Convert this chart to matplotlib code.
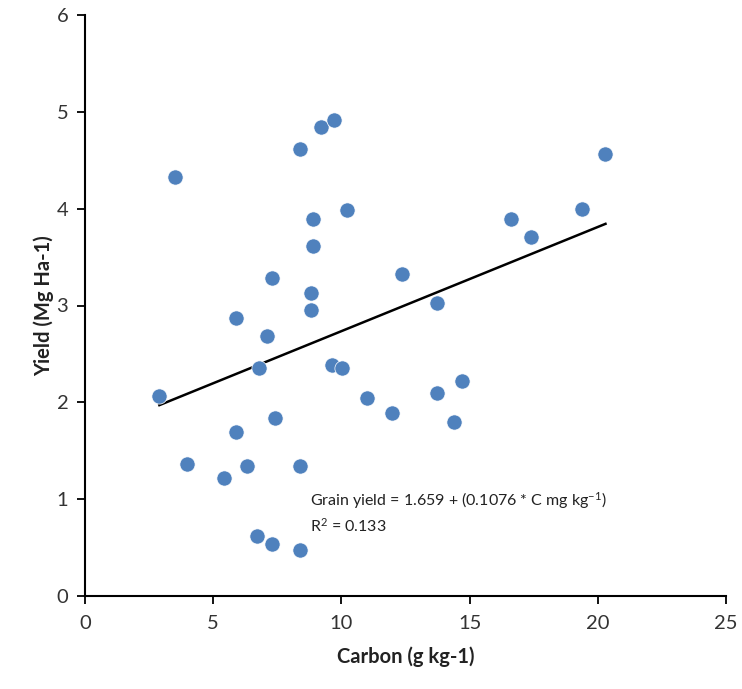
import numpy as np
import matplotlib
matplotlib.use("Agg")
import matplotlib.pyplot as plt

# soil carbon (g/kg) vs grain yield (Mg/ha)
carbon = [3.51, 8.38, 9.20, 9.71, 10.20, 8.90, 8.90, 7.29, 8.80, 12.38,
          20.30, 19.40, 16.61, 17.41, 13.71,
          8.80, 5.89, 7.11, 6.80, 9.62, 10.03, 2.90, 11.01, 11.99, 7.41,
          5.89, 3.99, 6.30, 8.38, 5.42, 6.69, 7.30, 8.38,
          14.71, 13.71, 14.40]
yield_ = [4.33, 4.62, 4.84, 4.92, 3.99, 3.89, 3.61, 3.28, 3.13, 3.33,
          4.56, 4.00, 3.89, 3.71, 3.03,
          2.95, 2.87, 2.69, 2.35, 2.39, 2.35, 2.07, 2.04, 1.89, 1.84,
          1.69, 1.36, 1.34, 1.34, 1.22, 0.62, 0.54, 0.48,
          2.22, 2.10, 1.80]

intercept = 1.659
slope = 0.1076
r2 = 0.133

x_ticks = [0, 5, 10, 15, 20, 25]
y_ticks = [0, 1, 2, 3, 4, 5, 6]

plt.rcParams["font.family"] = ["Lato", "DejaVu Sans"]
plt.rcParams["mathtext.fontset"] = "custom"
plt.rcParams["mathtext.rm"] = "Lato"
plt.rcParams["mathtext.it"] = "Lato:italic"
plt.rcParams["mathtext.bf"] = "Lato:bold"

fig = plt.figure(figsize=(7.42, 6.89), dpi=100)
ax = fig.add_axes([85 / 742, 93 / 689, 641 / 742, 581 / 689])

ax.scatter(carbon, yield_, s=120, color="#4F81BD", edgecolors="white",
           linewidths=0.5, zorder=3)

# trend line from the regression coefficients
xs = np.array([min(carbon), max(carbon)])
ax.plot(xs, intercept + slope * xs, color="black", linewidth=1.8, zorder=2)

ax.text(8.77, 1.09,
        "Grain yield = 1.659 + (0.1076 * C mg kg$^{-1}$)\nR$^2$ = %.3f" % r2,
        fontsize=11.5, va="top", ha="left", color="#222222", linespacing=1.35)

ax.set_xlim(0, 25)
ax.set_ylim(0, 6)
ax.set_xticks(x_ticks)
ax.set_yticks(y_ticks)
ax.tick_params(direction="out", length=6, width=1.3, labelsize=14.5,
               colors="black", labelcolor="#333333")
ax.tick_params(axis="x", pad=8)
ax.tick_params(axis="y", pad=6)

for side in ["top", "right"]:
    ax.spines[side].set_visible(False)
for side in ["left", "bottom"]:
    ax.spines[side].set_linewidth(1.5)

ax.set_xlabel("Carbon (g kg-1)", fontsize=14.5, fontweight="bold",
              color="#222222", labelpad=10)
ax.set_ylabel("Yield (Mg Ha-1)", fontsize=14.5, fontweight="bold",
              color="#222222", labelpad=2)

fig.savefig("out.png", dpi=100)
